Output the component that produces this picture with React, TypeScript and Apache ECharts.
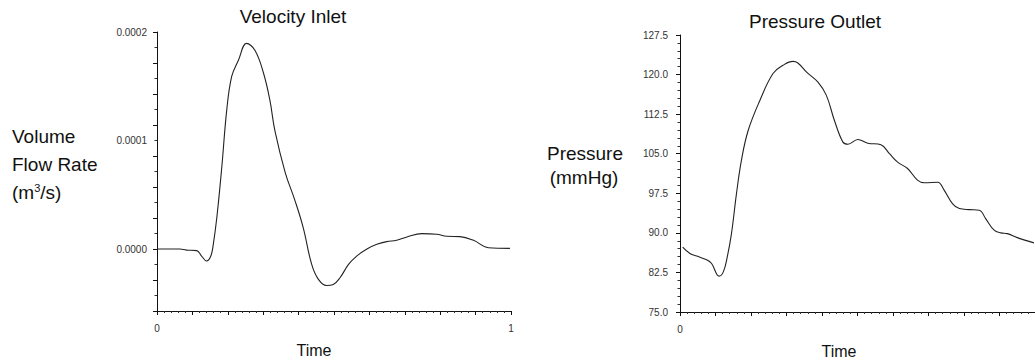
import React, { useEffect, useRef } from "react";
import * as echarts from "echarts";

// ---- Data ----
const inletTime = [0, 0.065, 0.083, 0.112, 0.126, 0.14, 0.152, 0.159, 0.169, 0.183, 0.197, 0.211, 0.23, 0.253, 0.277, 0.301, 0.319, 0.333, 0.362, 0.39, 0.413, 0.437, 0.456, 0.479, 0.498, 0.517, 0.541, 0.564, 0.593, 0.621, 0.649, 0.677, 0.706, 0.748, 0.79, 0.819, 0.856, 0.894, 0.936, 0.997];
const inletFlow = [0, 0, -0.000001, -0.0000015, -0.0000065, -0.0000111, -0.0000065, 0.0000043, 0.000029, 0.0000753, 0.000128, 0.000159, 0.000174, 0.0001895, 0.000183, 0.000162, 0.000137, 0.000109, 0.0000707, 0.0000444, 0.0000197, -0.0000142, -0.000028, -0.0000336, -0.0000327, -0.0000265, -0.0000142, -0.0000065, 0, 0.0000043, 0.0000068, 0.000008, 0.0000111, 0.0000142, 0.0000136, 0.0000117, 0.0000114, 0.000008, 0.0000012, 0.0000006];

const outletTime = [0.0075, 0.028, 0.047, 0.075, 0.089, 0.11, 0.122, 0.133, 0.145, 0.159, 0.173, 0.192, 0.225, 0.262, 0.29, 0.318, 0.332, 0.356, 0.388, 0.412, 0.435, 0.459, 0.473, 0.501, 0.529, 0.566, 0.59, 0.613, 0.641, 0.669, 0.688, 0.726, 0.744, 0.768, 0.787, 0.815, 0.843, 0.861, 0.885, 0.904, 0.922, 0.95, 0.997];
const outletPressure = [87.3, 86.1, 85.6, 84.9, 84.2, 81.8, 82.6, 85.4, 89.85, 97.4, 103.75, 109.4, 115.1, 120.2, 121.75, 122.5, 122.2, 120.5, 118.6, 116.1, 111.3, 107.2, 106.8, 107.7, 107.0, 106.7, 105.0, 103.4, 102.2, 100.0, 99.5, 99.6, 98.1, 95.5, 94.6, 94.4, 94.3, 92.7, 90.5, 90.0, 89.85, 89.1, 88.1];

const inletTickStep = 0.0002 / 7;
const inletTicks = [-2, -1, 0, 1, 2, 3, 4, 5, 6, 7].map((i) => i * inletTickStep);
const inletLabels = [0, 0.0001, 0.0002];
const inletTimeLabels = [0, 1];
const outletTimeLabels = [0];

const FONT = "Liberation Sans, Arial, sans-serif";

function xAxisCfg(gridIndex: number, labels: number[]) {
  return {
    type: "value",
    gridIndex,
    min: 0,
    max: 1,
    interval: 0.1,
    axisLine: { show: true, onZero: false, lineStyle: { color: "#111", width: 1 } },
    axisTick: { show: true, length: 4, lineStyle: { color: "#111" } },
    minorTick: { show: true, splitNumber: 5, length: 2, lineStyle: { color: "#333" } },
    splitLine: { show: false },
    axisLabel: {
      customValues: labels,
      formatter: (v: number) => String(Math.round(v)),
      fontSize: 10,
      color: "#333",
      fontFamily: FONT,
      margin: 12,
    },
  };
}

export default function App() {
  const ref = useRef<HTMLDivElement>(null);
  useEffect(() => {
    if (!ref.current) return;
    const chart = echarts.init(ref.current, undefined, { renderer: "svg" });
    const textStyle = (size: number) => ({ fontSize: size, fontFamily: FONT, fill: "#111" });
    chart.setOption({
      animation: false,
      backgroundColor: "#fff",
      grid: [
        { left: 157, top: 32, width: 354, height: 279 },
        { left: 680, top: 35, width: 356, height: 277 },
      ],
      xAxis: [xAxisCfg(0, inletTimeLabels), xAxisCfg(1, outletTimeLabels)],
      yAxis: [
        {
          type: "value",
          gridIndex: 0,
          min: -2 * inletTickStep,
          max: 0.0002,
          interval: inletTickStep,
          axisLine: { show: true, onZero: false, lineStyle: { color: "#111", width: 1 } },
          axisTick: { show: true, length: 4, customValues: inletTicks, lineStyle: { color: "#111" } },
          minorTick: { show: true, splitNumber: 2, length: 2.5, lineStyle: { color: "#333" } },
          splitLine: { show: false },
          axisLabel: {
            customValues: inletLabels,
            formatter: (v: number) => v.toFixed(4),
            fontSize: 10,
            color: "#333",
            fontFamily: FONT,
            margin: 10,
          },
        },
        {
          type: "value",
          gridIndex: 1,
          min: 75,
          max: 127.5,
          interval: 7.5,
          axisLine: { show: true, onZero: false, lineStyle: { color: "#111", width: 1 } },
          axisTick: { show: true, length: 4, lineStyle: { color: "#111" } },
          minorTick: { show: true, splitNumber: 5, length: 2.5, lineStyle: { color: "#333" } },
          splitLine: { show: false },
          axisLabel: {
            formatter: (v: number) => v.toFixed(1),
            fontSize: 10,
            color: "#333",
            fontFamily: FONT,
            margin: 12,
          },
        },
      ],
      series: [
        {
          type: "line",
          xAxisIndex: 0,
          yAxisIndex: 0,
          data: inletTime.map((t, i) => [t, inletFlow[i]]),
          smooth: 0.4,
          showSymbol: false,
          lineStyle: { color: "#222", width: 1.1 },
        },
        {
          type: "line",
          xAxisIndex: 1,
          yAxisIndex: 1,
          data: outletTime.map((t, i) => [t, outletPressure[i]]),
          smooth: 0.4,
          showSymbol: false,
          lineStyle: { color: "#222", width: 1.1 },
        },
      ],
      graphic: [
        { type: "text", x: 293, y: 16, style: { text: "Velocity Inlet", ...textStyle(19), align: "center", verticalAlign: "middle" } },
        { type: "text", x: 815, y: 21, style: { text: "Pressure Outlet", ...textStyle(19), align: "center", verticalAlign: "middle" } },
        { type: "text", x: 12, y: 136, style: { text: "Volume", ...textStyle(19), align: "left", verticalAlign: "middle" } },
        { type: "text", x: 12, y: 164, style: { text: "Flow Rate", ...textStyle(19), align: "left", verticalAlign: "middle" } },
        {
          type: "text",
          x: 12,
          y: 192,
          style: {
            text: "(m{sup|3}/s)",
            ...textStyle(19),
            align: "left",
            verticalAlign: "middle",
            rich: { sup: { fontSize: 11, fontFamily: FONT, fill: "#111", verticalAlign: "top", padding: [0, 0, 8, 0] } },
          },
        },
        { type: "text", x: 585, y: 153, style: { text: "Pressure", ...textStyle(19), align: "center", verticalAlign: "middle" } },
        { type: "text", x: 584, y: 177, style: { text: "(mmHg)", ...textStyle(19), align: "center", verticalAlign: "middle" } },
        { type: "text", x: 314, y: 350, style: { text: "Time", ...textStyle(16), align: "center", verticalAlign: "middle" } },
        { type: "text", x: 839, y: 351, style: { text: "Time", ...textStyle(16), align: "center", verticalAlign: "middle" } },
      ],
    });
    return () => chart.dispose();
  }, []);
  return <div ref={ref} style={{ position: "fixed", left: 0, top: 0, width: 1035, height: 363 }} />;
}
